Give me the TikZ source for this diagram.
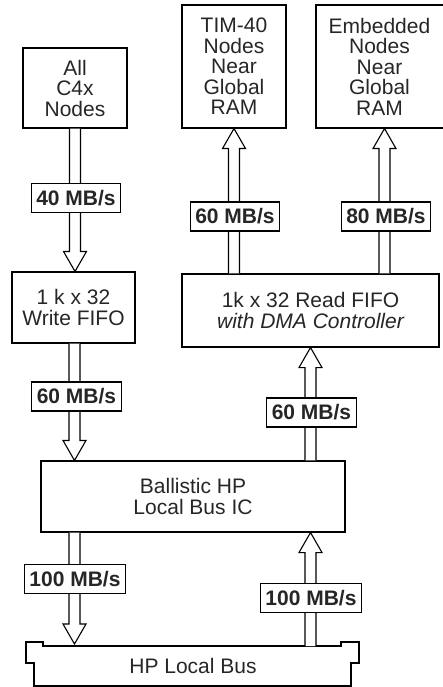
\documentclass[tikz,border=0pt]{standalone}
\usepackage{fontspec}
\setmainfont{Liberation Sans}
\usetikzlibrary{calc}
\tikzset{
  x=1pt, y=-1pt,
  blk/.style={draw, line width=1.1pt, inner sep=0pt, align=center,
    font=\fontsize{21}{20.5}\selectfont, text=black!85},
  rate/.style={draw, line width=1.1pt, fill=white, inner xsep=5pt, inner ysep=0pt,
    minimum height=29pt, font=\fontsize{21}{21}\selectfont\bfseries, text=black!85},
  fat/.style={draw, line width=1.1pt, fill=white, line join=miter},
}
\newcommand\fatarrow[2]{%
  \draw[fat] let \p1=(#1), \p2=(#2), \p3=($(#2)!20pt!(#1)$) in
    (\x1-5.5pt,\y1) -- (\x1-5.5pt,\y3) -- (\x1-11.5pt,\y3) -- (\x2,\y2)
    -- (\x1+11.5pt,\y3) -- (\x1+5.5pt,\y3) -- (\x1+5.5pt,\y1);}
\begin{document}
\begin{tikzpicture}
\useasboundingbox (0,0) rectangle (443,687);
\clip (0,0) rectangle (443,687);
% blocks
\node[blk, minimum width=104pt, minimum height=80pt] (c4x) at (75,88) {All\\C4x\\Nodes};
\node[blk, minimum width=104pt, minimum height=123pt] (tim) at (234,66.5) {TIM-40\\Nodes\\Near\\Global\\RAM};
\node[blk, minimum width=137pt, minimum height=123pt] (emb) at (384.5,66.5) {\hspace*{-10pt}Embedded\\\hspace*{-10pt}Nodes\\\hspace*{-10pt}Near\\\hspace*{-10pt}Global\\\hspace*{-10pt}RAM};
\node[blk, minimum width=123pt, minimum height=71pt] (wfifo) at (73.5,307.5) {1 k x 32\\Write FIFO};
\node[blk, minimum width=257pt, minimum height=73pt] (rfifo) at (310.5,310.5) {1k x 32 Read FIFO\\\itshape with DMA Controller};
\node[blk, minimum width=304pt, minimum height=71pt] (ball) at (193,496.5) {Ballistic HP\\Local Bus IC};
% bus
\draw[line width=1.1pt] (34,686) -- (34,663) -- (26,663) -- (26,642) -- (43,642) -- (43,646)
  -- (341,646) -- (341,642) -- (359,642) -- (359,663) -- (351,663) -- (351,686) -- cycle;
\node[blk, draw=none] (bus) at (193,666) {HP Local Bus};
\coordinate (busL) at (74.5,644);
\coordinate (busR) at (310.5,646);
% arrows
\fatarrow{c4x.south}{c4x.south |- wfifo.north}
\fatarrow{wfifo.south -| busL}{busL |- ball.north}
\fatarrow{busL |- ball.south}{busL}
\fatarrow{busR}{busR |- ball.south}
\fatarrow{busR |- ball.north}{rfifo.south}
\fatarrow{rfifo.north -| tim.south}{tim.south}
\fatarrow{rfifo.north -| emb.south}{emb.south}
% rates
\node[rate] (r40) at (76,198) {40 MB/s};
\node[rate] (r60a) at (235,216.5) {60 MB/s};
\node[rate] (r80) at (386,216.5) {80 MB/s};
\node[rate] (r60b) at (76.5,396.5) {60 MB/s};
\node[rate] (r60c) at (311.5,412.5) {60 MB/s};
\node[rate] (r100a) at (75,579) {100 MB/s};
\node[rate] (r100b) at (311,598) {100 MB/s};
\end{tikzpicture}
\end{document}
